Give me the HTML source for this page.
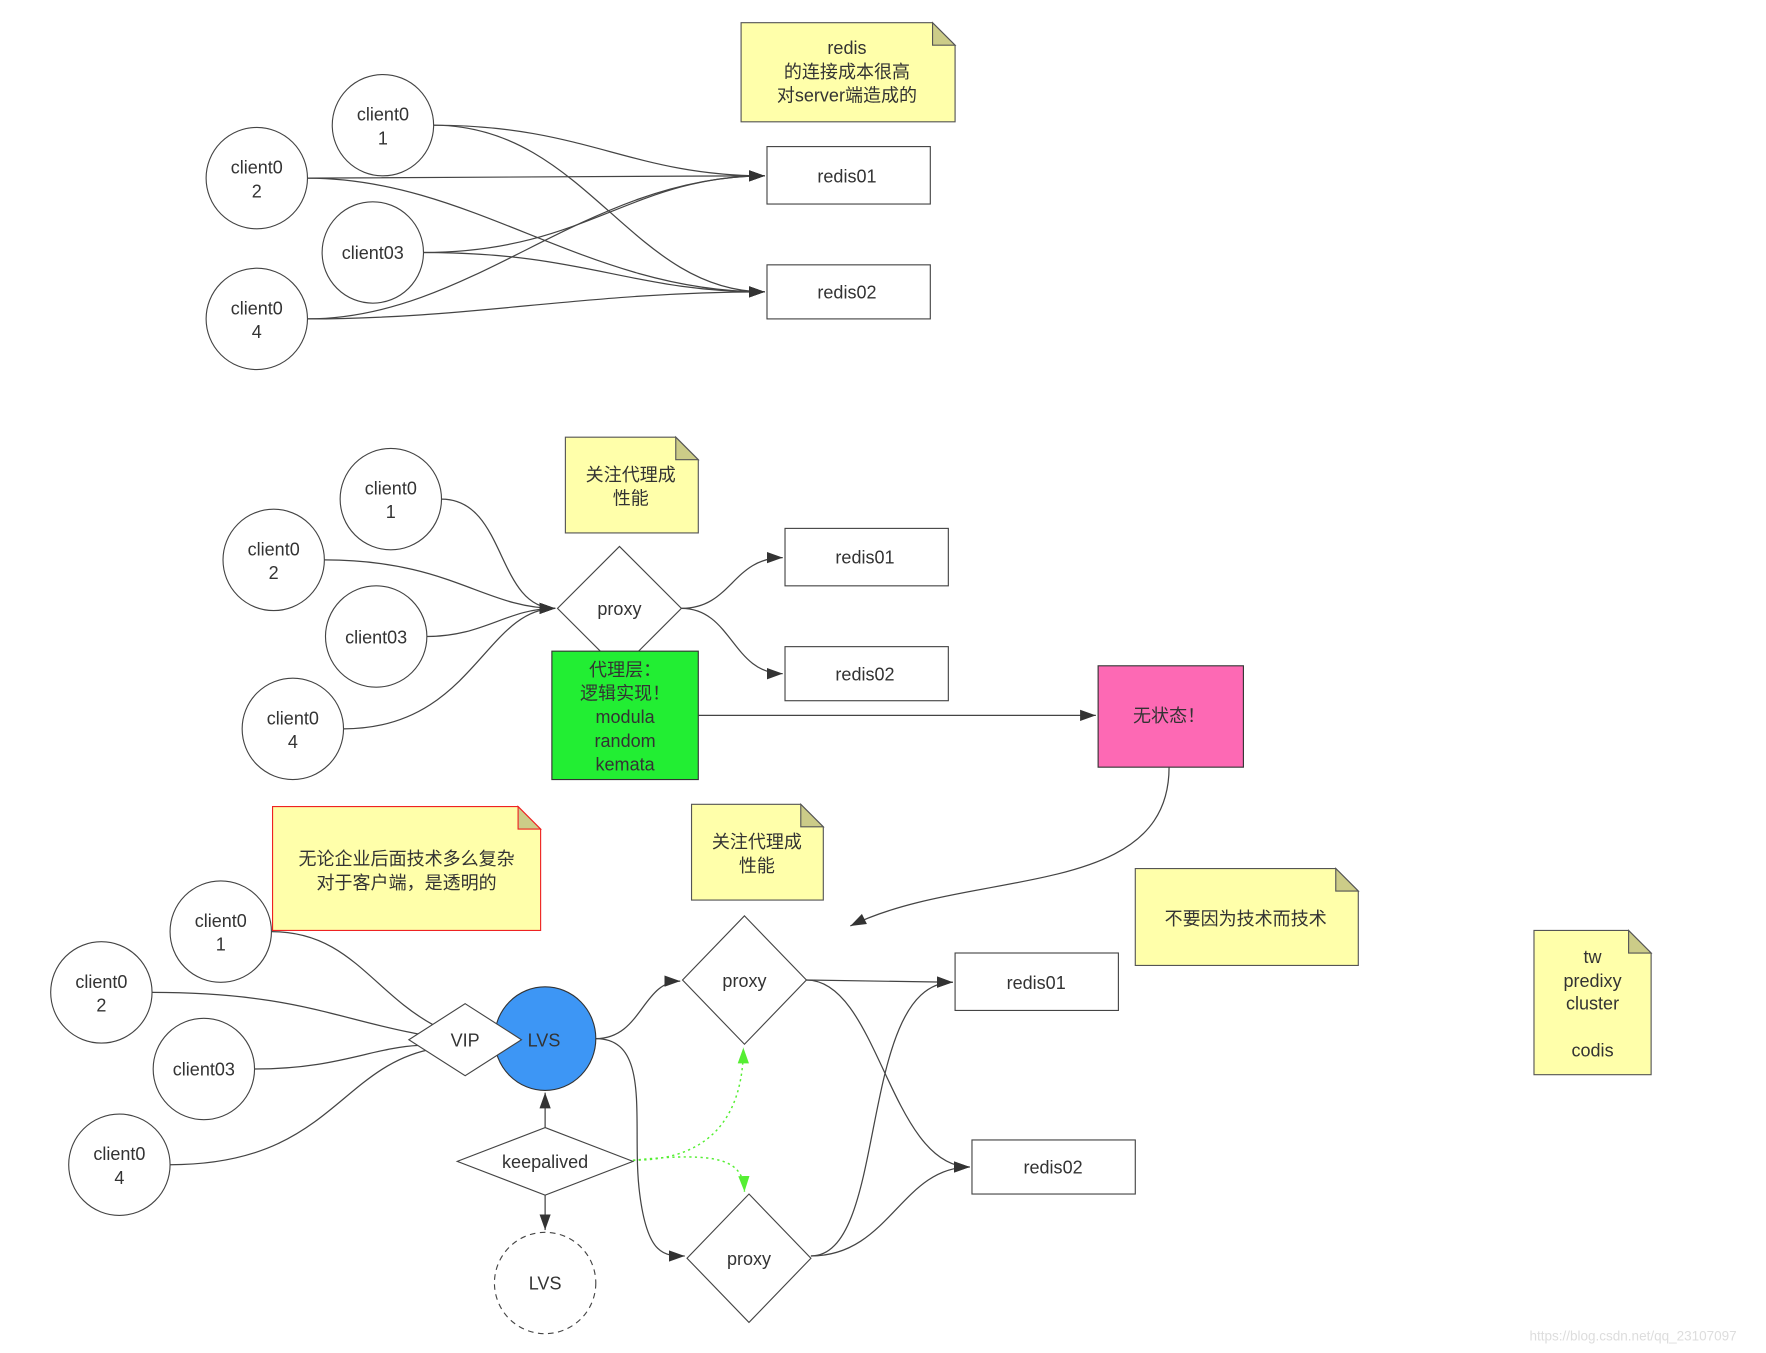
<!DOCTYPE html>
<html><head><meta charset="utf-8"><style>
html,body{margin:0;padding:0;background:#fff;}
svg{display:block;}
text{font-family:"Liberation Sans","Noto Sans CJK SC",sans-serif;font-size:16px;fill:#333;text-anchor:middle;}
.n{fill:#fff;stroke:#444;stroke-width:1;}
.e{fill:none;stroke:#444;stroke-width:1.1;}
.note{fill:#ffffaa;stroke:#555;stroke-width:1;}
.fold{fill:#cccc88;stroke:#555;stroke-width:1;}
</style></head><body>
<svg width="1766" height="1353" viewBox="0 0 1568 1201" xmlns="http://www.w3.org/2000/svg">
<defs>
<marker id="a" viewBox="0 0 14 12" refX="14" refY="6" markerWidth="14" markerHeight="12" markerUnits="userSpaceOnUse" orient="auto"><path d="M0,1 L14,6 L0,11 z" fill="#333"/></marker>
<marker id="g" viewBox="0 0 14 12" refX="14" refY="6" markerWidth="14" markerHeight="12" markerUnits="userSpaceOnUse" orient="auto"><path d="M0,1 L14,6 L0,11 z" fill="#55ee33"/></marker>
</defs>

<!-- TOP -->
<path class="note" d="M658,20 H828 L848,40 V108 H658 Z"/><path class="fold" d="M828,20 V40 H848 Z"/>
<text x="752" y="48">redis</text><text x="752" y="69">的连接成本很高</text><text x="752" y="90">对server端造成的</text>

<path class="e" marker-end="url(#a)" d="M385,111 C520,111 560,156 679,156"/>
<path class="e" marker-end="url(#a)" d="M385,111 C520,111 560,259 679,259"/>
<path class="e" marker-end="url(#a)" d="M273,158 C450,158 560,156 679,156"/>
<path class="e" marker-end="url(#a)" d="M273,158 C420,158 520,259 679,259"/>
<path class="e" marker-end="url(#a)" d="M376,224 C520,224 560,156 679,156"/>
<path class="e" marker-end="url(#a)" d="M376,224 C520,224 560,259 679,259"/>
<path class="e" marker-end="url(#a)" d="M273,283 C420,283 520,156 679,156"/>
<path class="e" marker-end="url(#a)" d="M273,283 C420,283 520,259 679,259"/>

<ellipse class="n" cx="340" cy="111" rx="45" ry="45"/><text x="340" y="107">client0</text><text x="340" y="128">1</text>
<ellipse class="n" cx="228" cy="158" rx="45" ry="45"/><text x="228" y="154">client0</text><text x="228" y="175">2</text>
<ellipse class="n" cx="331" cy="224" rx="45" ry="45"/><text x="331" y="230">client03</text>
<ellipse class="n" cx="228" cy="283" rx="45" ry="45"/><text x="228" y="279">client0</text><text x="228" y="300">4</text>
<rect class="n" x="681" y="130" width="145" height="51"/><text x="752" y="162">redis01</text>
<rect class="n" x="681" y="235" width="145" height="48"/><text x="752" y="265">redis02</text>

<!-- MIDDLE -->
<path class="note" d="M502,388 H600 L620,408 V473 H502 Z"/><path class="fold" d="M600,388 V408 H620 Z"/>
<text x="560" y="427">关注代理成</text><text x="560" y="448">性能</text>

<path class="e" marker-end="url(#a)" d="M392,443 C450,443 440,540 493,540"/>
<path class="e" marker-end="url(#a)" d="M288,497 C400,497 430,540 493,540"/>
<path class="e" marker-end="url(#a)" d="M379,565 C430,565 450,540 493,540"/>
<path class="e" marker-end="url(#a)" d="M305,647 C420,647 430,540 493,540"/>
<path class="e" marker-end="url(#a)" d="M605,540 C650,540 650,495 695,495"/>
<path class="e" marker-end="url(#a)" d="M605,540 C650,540 650,598 695,598"/>

<path class="n" d="M550,485 L605,540 L550,595 L495,540 Z"/><text x="550" y="546">proxy</text>
<rect x="490" y="578" width="130" height="114" fill="#22ee33" stroke="#333"/>
<text x="555" y="600">代理层：</text><text x="555" y="621">逻辑实现！</text><text x="555" y="642">modula</text><text x="555" y="663">random</text><text x="555" y="684">kemata</text>
<ellipse class="n" cx="347" cy="443" rx="45" ry="45"/><text x="347" y="439">client0</text><text x="347" y="460">1</text>
<ellipse class="n" cx="243" cy="497" rx="45" ry="45"/><text x="243" y="493">client0</text><text x="243" y="514">2</text>
<ellipse class="n" cx="334" cy="565" rx="45" ry="45"/><text x="334" y="571">client03</text>
<ellipse class="n" cx="260" cy="647" rx="45" ry="45"/><text x="260" y="643">client0</text><text x="260" y="664">4</text>
<rect class="n" x="697" y="469" width="145" height="51"/><text x="768" y="500">redis01</text>
<rect class="n" x="697" y="574" width="145" height="48"/><text x="768" y="604">redis02</text>

<path class="e" marker-end="url(#a)" d="M620,635 L973,635"/>
<rect x="975" y="591" width="129" height="90" fill="#fd69b4" stroke="#333"/><text x="1038" y="641">无状态！</text>
<path class="e" marker-end="url(#a)" d="M1038,681 C1038,800 860,770 755,822"/>

<!-- BOTTOM -->
<path d="M242,716 H460 L480,736 V826 H242 Z" fill="#ffffaa" stroke="#ee2222"/><path d="M460,716 V736 H480 Z" fill="#cccc88" stroke="#ee2222"/>
<text x="361" y="768">无论企业后面技术多么复杂</text><text x="361" y="789">对于客户端，是透明的</text>
<path class="note" d="M614,714 H711 L731,734 V799 H614 Z"/><path class="fold" d="M711,714 V734 H731 Z"/>
<text x="672" y="753">关注代理成</text><text x="672" y="774">性能</text>
<path class="note" d="M1008,771 H1186 L1206,791 V857 H1008 Z"/><path class="fold" d="M1186,771 V791 H1206 Z"/>
<text x="1106" y="821">不要因为技术而技术</text>
<path class="note" d="M1362,826 H1446 L1466,846 V954 H1362 Z"/><path class="fold" d="M1446,826 V846 H1466 Z"/>
<text x="1414" y="855">tw</text><text x="1414" y="876">predixy</text><text x="1414" y="896">cluster</text><text x="1414" y="938">codis</text>

<path class="e" d="M241,827 C310,827 330,880 385,910"/>
<path class="e" d="M135,881 C260,881 300,905 372,918"/>
<path class="e" d="M226,949 C300,949 330,930 372,928"/>
<path class="e" d="M151,1034 C290,1034 300,950 380,932"/>
<path class="e" marker-end="url(#a)" d="M529,922 C570,922 570,871 604,871"/>
<path class="e" marker-end="url(#a)" d="M529,922 C580,922 560,1000 568,1060 C575,1115 590,1115 608,1115"/>
<path class="e" marker-end="url(#a)" d="M716,870 L846,872"/>
<path class="e" marker-end="url(#a)" d="M716,870 C780,870 790,1036 861,1036"/>
<path class="e" marker-end="url(#a)" d="M720,1115 C790,1115 760,872 846,872"/>
<path class="e" marker-end="url(#a)" d="M720,1115 C790,1115 800,1036 861,1036"/>
<path class="e" marker-end="url(#a)" d="M484,1001 L484,970"/>
<path class="e" marker-end="url(#a)" d="M484,1061 L484,1092"/>
<path fill="none" stroke="#55ee33" stroke-width="1.3" stroke-dasharray="2,3" marker-end="url(#g)" d="M562,1030 C640,1030 660,980 660,930"/>
<path fill="none" stroke="#55ee33" stroke-width="1.3" stroke-dasharray="2,3" marker-end="url(#g)" d="M562,1030 C640,1022 660,1030 661,1058"/>

<ellipse cx="484" cy="922" rx="45" ry="46" fill="#3d96f5" stroke="#333"/>
<path class="n" d="M413,891 L463,923 L413,955 L363,923 Z"/><text x="413" y="929">VIP</text><text x="483" y="929">LVS</text>
<path class="n" d="M484,1001 L562,1031 L484,1061 L406,1031 Z"/><text x="484" y="1037">keepalived</text>
<ellipse cx="484" cy="1139" rx="45" ry="45" fill="#fff" stroke="#444" stroke-dasharray="5,4"/><text x="484" y="1145">LVS</text>
<path class="n" d="M661,813 L716,870 L661,927 L606,870 Z"/><text x="661" y="876">proxy</text>
<path class="n" d="M665,1060 L720,1117 L665,1174 L610,1117 Z"/><text x="665" y="1123">proxy</text>
<ellipse class="n" cx="196" cy="827" rx="45" ry="45"/><text x="196" y="823">client0</text><text x="196" y="844">1</text>
<ellipse class="n" cx="90" cy="881" rx="45" ry="45"/><text x="90" y="877">client0</text><text x="90" y="898">2</text>
<ellipse class="n" cx="181" cy="949" rx="45" ry="45"/><text x="181" y="955">client03</text>
<ellipse class="n" cx="106" cy="1034" rx="45" ry="45"/><text x="106" y="1030">client0</text><text x="106" y="1051">4</text>
<rect class="n" x="848" y="846" width="145" height="51"/><text x="920" y="878">redis01</text>
<rect class="n" x="863" y="1012" width="145" height="48"/><text x="935" y="1042">redis02</text>

<text x="1450" y="1190" style="font-size:12px;fill:#ddd">https://blog.csdn.net/qq_23107097</text>
</svg>
</body></html>
